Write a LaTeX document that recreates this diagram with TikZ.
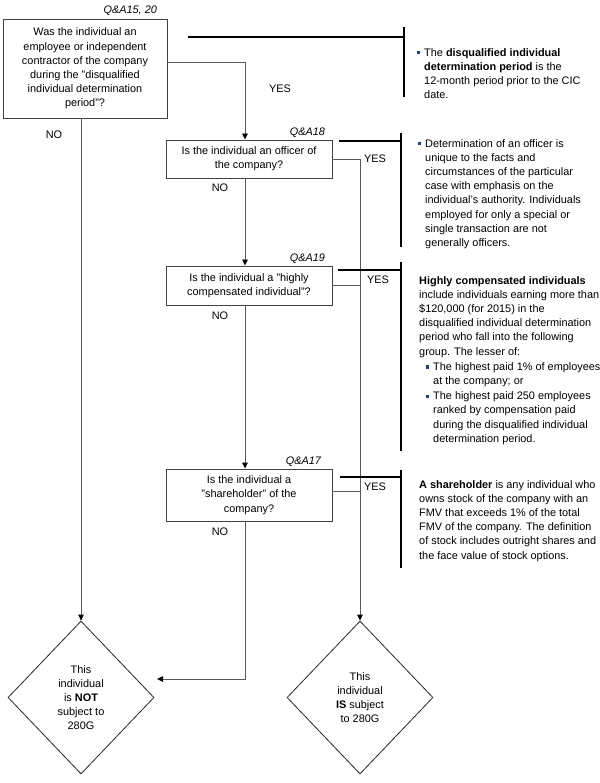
\documentclass[tikz,border=0pt]{standalone}
\usepackage{fontspec}
\setmainfont{Liberation Sans}
\usetikzlibrary{calc,shapes.geometric,arrows.meta}

\definecolor{bulletblue}{RGB}{40,62,120}
\newcommand{\notebullet}{\textcolor{bulletblue}{\rule[1.8pt]{3.2pt}{3.2pt}}}
\newcommand{\bul}{\llap{\notebullet\hspace{4.5pt}}}

\tikzset{
  qbox/.style={draw=black!75, line width=0.9pt, rectangle, minimum width=166pt, inner sep=0pt, align=center},
  endnode/.style={draw=black!85, line width=0.8pt, diamond, minimum width=146pt, minimum height=153pt, inner sep=0pt, align=center},
  conn/.style={draw=black!65, line width=0.9pt},
  arr/.style={conn, -{Triangle[length=6pt,width=5.5pt,black]}},
  qa/.style={anchor=base east, font=\fontsize{10.9}{14.2}\itshape},
  lbl/.style={inner sep=0pt},
  notebar/.style={line width=2.6pt},
  note/.style={anchor=north west, align=left, inner sep=0pt},
}

\begin{document}
\begin{tikzpicture}[x=1pt,y=-1pt,font=\fontsize{10.9}{14.2}\selectfont]
\useasboundingbox (0,0) rectangle (599,783);

% questions
\node[qbox, minimum width=164pt, minimum height=99pt] (q1) at (85,68.5)
  {Was the individual an\\employee or independent\\contractor of the company\\during the "disqualified\\individual determination\\period"?};
\node[qbox, minimum height=38pt] (q2) at (249,159)
  {Is the individual an officer of\\the company?};
\node[qbox, minimum height=39pt] (q3) at (249,285.5)
  {Is the individual a "highly\\compensated individual"?};
\node[qbox, minimum height=52pt] (q4) at (249,495)
  {Is the individual a\\"shareholder" of the\\company?};

\node[qa] at ([xshift=-7pt,yshift=5pt]q1.north east) {Q\&A15, 20};
\node[qa] at ([xshift=-4pt,yshift=4pt]q2.north east) {Q\&A18};
\node[qa] at ([xshift=-4pt,yshift=4pt]q3.north east) {Q\&A19};
\node[qa] at ([xshift=-8pt,yshift=4pt]q4.north east) {Q\&A17};

% outcomes
\node[endnode] (notsub) at (81,697.5) {This\\individual\\is \textbf{NOT}\\subject to\\280G};
\node[endnode] (issub) at (360,697.5) {This\\individual\\\textbf{IS} subject\\to 280G};

\coordinate (spine) at (245,0);
\coordinate (notin) at (157,679);
\coordinate (y4) at ([yshift=4pt]q4.east);

% connectors
\draw[arr] ([yshift=6.5pt]q1.east) -| (q2.north -| spine);
\draw[arr] (q1.south -| notsub.north) -- (notsub.north);
\draw[arr] (q2.south -| spine) -- (q3.north -| spine);
\draw[arr] (q3.south -| spine) -- (q4.north -| spine);
\draw[arr] (q4.south -| spine) |- (notin);
\draw[arr] (q2.east) -| (issub.north);
\draw[conn] (q3.east) -- (q3.east -| issub.north);
\draw[conn] (y4) -- (y4 -| issub.north);

\node[lbl] (no1) at (54,135) {NO};
\node[lbl] (yes1) at (280,89) {YES};
\node[lbl] (yes2) at (375,159) {YES};
\node[lbl] (no2) at (220,188) {NO};
\node[lbl] (yes3) at (378,280) {YES};
\node[lbl] (no3) at (220,316) {NO};
\node[lbl] (yes4) at (375,487) {YES};
\node[lbl] (no4) at (220,532) {NO};

% notes
\draw[notebar] (188,37) -- (404,37) (404,27) -- (404,97);
\draw[notebar] (339,141) -- (401,141) (401,133) -- (401,247);
\draw[notebar] (338,270) -- (401,270) (401,262) -- (401,451);
\draw[notebar] (340,477) -- (401,477) (401,470) -- (401,568);

\node[note] (n1) at (424,48)
  {\bul The \textbf{disqualified individual}\\\textbf{determination period} is the\\12-month period prior to the CIC\\date.};
\node[note] (n2) at (425,139)
  {\bul Determination of an officer is\\unique to the facts and\\circumstances of the particular\\case with emphasis on the\\individual's authority. Individuals\\employed for only a special or\\single transaction are not\\generally officers.};
\node[note] (n3) at (419,276)
  {\textbf{Highly compensated individuals}\\include individuals earning more than\\\$120,000 (for 2015) in the\\disqualified individual determination\\period who fall into the following\\group. The lesser of:\\[1pt]
   \hspace*{14pt}\bul The highest paid 1\% of employees\\\hspace*{14pt}at the company; or\\[1pt]
   \hspace*{14pt}\bul The highest paid 250 employees\\\hspace*{14pt}ranked by compensation paid\\\hspace*{14pt}during the disqualified individual\\\hspace*{14pt}determination period.};
\node[note] (n4) at (419,480)
  {\textbf{A shareholder} is any individual who\\owns stock of the company with an\\FMV that exceeds 1\% of the total\\FMV of the company. The definition\\of stock includes outright shares and\\the face value of stock options.};
\end{tikzpicture}
\end{document}
